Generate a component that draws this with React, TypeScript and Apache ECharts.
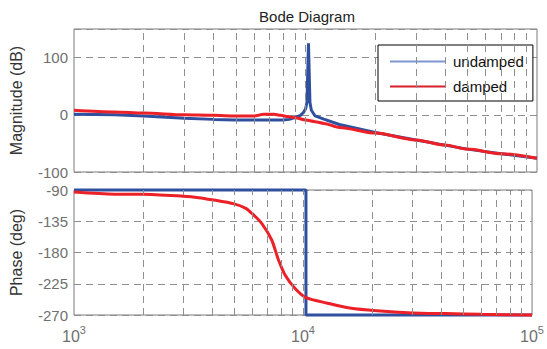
import React, { useEffect, useRef } from "react";
import * as echarts from "echarts";

const magFreqU = [1000, 1500, 2000, 3000, 4000, 5000, 6000, 7000, 8000, 8500, 9000, 9500, 9800, 10000, 10150, 10300, 10450, 10600, 11000, 12000, 14000, 20000, 30000, 40000, 50000, 70000, 100000];
const magU = [1, 0, -2, -6, -8, -9, -9, -9, -9, -8, -5, -1, 4, 10, 22, 125, 22, 8, -2, -7.5, -17, -31, -44, -53, -60, -68, -76];

const magFreqD = [1000, 1500, 2000, 3000, 4000, 5000, 6000, 6600, 7300, 7800, 8400, 9000, 10000, 11000, 12000, 14000, 20000, 30000, 40000, 50000, 70000, 100000];
const magD = [8, 5, 3, 0, -1, -2, -2, 1, 1, -1, -3, -5, -9, -12, -15, -22, -32, -44, -53, -60, -68, -76];

const phaseFreqU = [1000, 10300, 10300, 100000];
const phaseU = [-90, -90, -270, -270];

const phaseFreqD = [1000, 1500, 2000, 3000, 3500, 4000, 5000, 5600, 6000, 6600, 7300, 7800, 8400, 9300, 10300, 12800, 16000, 21000, 30000, 42000, 60000, 100000];
const phaseD = [-93, -96, -96, -99, -101, -104, -110, -116, -124, -138, -162, -190, -214, -233, -245, -253, -260, -264, -267, -268, -269, -270];

const gridFreqs = [2000, 3000, 4000, 5000, 6000, 7000, 8000, 9000, 10000, 20000, 30000, 40000, 50000, 60000, 70000, 80000, 90000];

const seriesNames = ["undamped", "damped"];

const FONT = "'Liberation Sans', Arial, Helvetica, sans-serif";
const BLUE = "#2f4f9f";
const RED = "#ec2027";
const GRIDC = "#8f8f8f";
const LABELC = "#6f6f6f";

const zip = (xs: number[], ys: number[]) => xs.map((x, i) => [x, ys[i]]);

export default function App() {
  const ref = useRef<HTMLDivElement>(null);
  useEffect(() => {
    if (!ref.current) return;
    const chart = echarts.init(ref.current, undefined, { renderer: "svg" });
    const xAxisBase = (gi: number, showLabels: boolean) => ({
      type: "log",
      logBase: 10,
      gridIndex: gi,
      min: 1000,
      max: 100000,
      axisLine: { show: false },
      axisTick: { show: false },
      splitLine: { show: false },
      axisLabel: {
        show: showLabels,
        margin: 9,
        formatter: (v: number) => `{b|10}{s|${Math.round(Math.log10(v))}}`,
        rich: {
          b: { fontSize: 16, fontFamily: FONT, color: LABELC, lineHeight: 20, verticalAlign: "bottom" },
          s: { fontSize: 11, fontFamily: FONT, color: LABELC, lineHeight: 11, verticalAlign: "top" },
        },
      },
    });
    const gridLines = (xi: number, yi: number) => ({
      type: "line",
      xAxisIndex: xi,
      yAxisIndex: yi,
      data: [],
      silent: true,
      z: 1,
      markLine: {
        silent: true,
        symbol: "none",
        label: { show: false },
        lineStyle: { color: GRIDC, type: [7, 5], width: 1 },
        data: gridFreqs.map((f) => ({ xAxis: f })),
      },
    });
    chart.setOption({
      animation: false,
      textStyle: { fontFamily: FONT },
      title: {
        text: "Bode Diagram",
        left: 302,
        top: 4,
        textAlign: "center",
        textStyle: { fontSize: 15, fontWeight: "normal", color: "#222", fontFamily: FONT },
      },
      legend: {
        data: [
          { name: seriesNames[0], icon: "rect", itemStyle: { color: "#7d98d2" } },
          { name: seriesNames[1], icon: "rect", itemStyle: { color: "#d8202a" } },
        ],
        orient: "vertical",
        left: 378,
        top: 45,
        padding: [8, 9, 6, 12],
        itemGap: 8,
        itemWidth: 55,
        itemHeight: 2,
        selectedMode: false,
        borderColor: "#000",
        borderWidth: 1,
        backgroundColor: "#fff",
        textStyle: { fontSize: 15, color: "#111", fontFamily: FONT, lineHeight: 17, padding: [0, 0, 0, 3] },
      },
      grid: [
        { left: 72, top: 29, width: 465, height: 143, show: true, borderColor: "#7a7a7a", borderWidth: 1, backgroundColor: "transparent" },
        { left: 72, top: 190, width: 465, height: 125, show: true, borderColor: "#7a7a7a", borderWidth: 1, backgroundColor: "transparent" },
      ],
      xAxis: [xAxisBase(0, false), xAxisBase(1, true)],
      yAxis: [
        {
          type: "value",
          gridIndex: 0,
          min: -100,
          max: 150,
          interval: 100,
          name: "Magnitude (dB)",
          nameLocation: "middle",
          nameGap: 50,
          nameTextStyle: { fontSize: 16, color: "#333", fontFamily: FONT },
          axisLine: { show: false },
          axisTick: { show: false },
          axisLabel: {
            fontSize: 15,
            color: LABELC,
            margin: 6,
            formatter: (v: number) => (v > 120 ? "" : String(v)),
          },
          splitLine: { show: true, lineStyle: { color: GRIDC, type: [7, 5], width: 1 } },
        },
        {
          type: "value",
          gridIndex: 1,
          min: -270,
          max: -90,
          interval: 45,
          name: "Phase (deg)",
          nameLocation: "middle",
          nameGap: 50,
          nameTextStyle: { fontSize: 16, color: "#333", fontFamily: FONT },
          axisLine: { show: false },
          axisTick: { show: false },
          axisLabel: { fontSize: 15, color: LABELC, margin: 6 },
          splitLine: { show: true, lineStyle: { color: GRIDC, type: [7, 5], width: 1 } },
        },
      ],
      series: [
        gridLines(0, 0),
        gridLines(1, 1),
        {
          name: seriesNames[0],
          type: "line",
          xAxisIndex: 0,
          yAxisIndex: 0,
          data: zip(magFreqU, magU),
          showSymbol: false,
          symbol: "none",
          z: 3,
          lineStyle: { color: BLUE, width: 3 },
          itemStyle: { color: BLUE },
        },
        {
          name: seriesNames[1],
          type: "line",
          xAxisIndex: 0,
          yAxisIndex: 0,
          data: zip(magFreqD, magD),
          showSymbol: false,
          symbol: "none",
          smooth: 0.3,
          smoothMonotone: "x",
          z: 4,
          lineStyle: { color: RED, width: 3 },
          itemStyle: { color: RED },
        },
        {
          name: seriesNames[0],
          type: "line",
          xAxisIndex: 1,
          yAxisIndex: 1,
          data: zip(phaseFreqU, phaseU),
          showSymbol: false,
          symbol: "none",
          clip: false,
          z: 3,
          lineStyle: { color: BLUE, width: 3 },
          itemStyle: { color: BLUE },
        },
        {
          name: seriesNames[1],
          type: "line",
          xAxisIndex: 1,
          yAxisIndex: 1,
          data: zip(phaseFreqD, phaseD),
          showSymbol: false,
          symbol: "none",
          smooth: 0.25,
          clip: false,
          z: 4,
          lineStyle: { color: RED, width: 3 },
          itemStyle: { color: RED },
        },
      ],
    });
    return () => chart.dispose();
  }, []);
  return (
    <div
      ref={ref}
      style={{ position: "fixed", left: 0, top: 0, width: 547, height: 349, background: "#fff" }}
    />
  );
}
